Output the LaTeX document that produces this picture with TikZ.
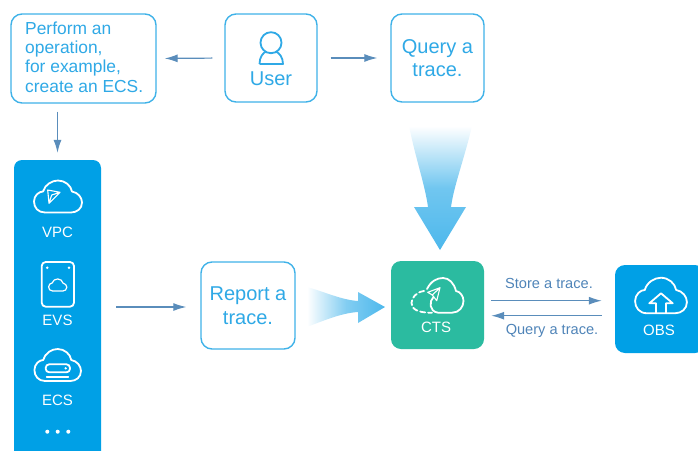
\documentclass[tikz,border=0pt]{standalone}
\usepackage{fontspec}
\setmainfont{Liberation Sans}
\usetikzlibrary{arrows.meta,calc}
\definecolor{lineblue}{HTML}{3FB2E8}
\definecolor{textblue}{HTML}{2FA9E6}
\definecolor{panelblue}{HTML}{00A0E6}
\definecolor{ctsgreen}{HTML}{2BBBA0}
\definecolor{connblue}{HTML}{5A8DBB}
\definecolor{connstext}{HTML}{4F84B8}
\definecolor{arrowblue}{HTML}{4DB8EC}
\tikzset{
  outlinebox/.style={draw=lineblue,line width=1.4pt,rounded corners=11pt,fill=white,inner sep=0pt,align=center,text=textblue,font=\fontsize{20}{23.5}\selectfont},
  solidbox/.style={rounded corners=10pt,inner sep=0pt},
  conn/.style={draw=connblue,line width=1.2pt,-{Latex[length=13pt,width=8pt]}},
  whitelabel/.style={text=white,font=\fontsize{15}{18}\selectfont,inner sep=0pt},
  connlabel/.style={text=connstext,font=\fontsize{14.6}{18}\selectfont,inner sep=0pt},
  iconw/.style={draw=white,line width=1.8pt,line join=round,line cap=round},
  cloudshape/.pic={
    \path[pic actions] (-13,16) .. controls (-20,16) and (-24,11) .. (-24,5) .. controls (-24,-1) and (-19,-5) .. (-15,-5) .. controls (-13,-12) and (-6,-16) .. (0,-16) .. controls (7,-16) and (13,-11) .. (14,-5) .. controls (20,-4) and (24,1) .. (24,6) .. controls (24,12) and (19,16) .. (13,16) -- cycle;
  }
}
\begin{document}
\begin{tikzpicture}[x=1pt,y=-1pt]
\useasboundingbox (0,0) rectangle (698,450);
% boxes
\node[outlinebox,minimum width=145pt,minimum height=89pt] (perform) at (83.5,58.5) {};
\node[anchor=west,inner sep=0pt,align=left,text=textblue,font=\fontsize{17.4}{19.4}\selectfont] (performtext) at (25,57) {Perform an\\operation,\\for example,\\create an ECS.};
\node[outlinebox,minimum width=92pt,minimum height=88pt] (user) at (271,58) {};
\node[text=textblue,font=\fontsize{20}{24}\selectfont,inner sep=0pt] (userlabel) at (271,79) {User};
\node[outlinebox,minimum width=93pt,minimum height=88pt] (query) at (437.5,58) {Query a\\trace.};
\node[outlinebox,minimum width=94pt,minimum height=87pt] (report) at (248,305.5) {Report a\\trace.};
\node[solidbox,fill=ctsgreen,minimum width=93pt,minimum height=88pt] (cts) at (437.5,305) {};
\node[solidbox,fill=panelblue,minimum width=90pt,minimum height=88pt] (obs) at (660,309) {};
\node[solidbox,rounded corners=8pt,fill=panelblue,minimum width=87pt,minimum height=320pt] (panel) at (57.5,320) {};
% labels
\node[whitelabel] (vpclabel) at (57.5,232) {VPC};
\node[whitelabel] (evslabel) at (57.5,320) {EVS};
\node[whitelabel] (ecslabel) at (57.5,400) {ECS};
\node[whitelabel] (ctslabel) at (436,327) {CTS};
\node[whitelabel] (obslabel) at (659,330) {OBS};
\node[connlabel] (storelabel) at (549,283.5) {Store a trace.};
\node[connlabel] (querylabel) at (552,330.5) {Query a trace.};
% connectors
\draw[conn,shorten <=12pt,shorten >=8pt] (user.west) -- (perform.east);
\draw[conn,shorten <=13pt,shorten >=13pt] (user.east) -- (query.west);
\draw[conn,shorten <=8pt,shorten >=7pt] (perform.south -| panel.north) -- (panel.north);
\draw[conn,shorten <=15pt,shorten >=14pt] ([yshift=-1.5pt]panel.east |- report.west) -- ([yshift=-1.5pt]report.west);
\draw[conn,shorten <=7pt,shorten >=13pt] ([yshift=4.3pt]cts.east) -- ([yshift=8.3pt]obs.west);
\draw[conn,shorten <=13pt,shorten >=7pt] ([yshift=-6.7pt]obs.west) -- ([yshift=-10.7pt]cts.east);
% gradient arrows
\shade[top color=white,bottom color=arrowblue,middle color=arrowblue!80!white]
  (409,126) -- (472,126) .. controls (464,160) and (454,185) .. (451,207) -- (466,207) -- (440,250) -- (414,207) -- (428,207) .. controls (425,185) and (416,160) .. (409,126) -- cycle;
\shade[left color=white,right color=arrowblue,middle color=arrowblue!70!white]
  (307,287) .. controls (325,292) and (342,300) .. (358,301) -- (358,292) -- (385,307) -- (358,323) -- (358,312) .. controls (342,313) and (325,320) .. (307,327) -- cycle;
% user icon
\draw[draw=textblue,line width=1.8pt,line join=round] (271,42.7) circle (10.5);
\draw[draw=textblue,line width=1.8pt,line join=round] (259.5,64) .. controls (259.5,57) and (263,53) .. (266,51.5) (276,51.5) .. controls (279,53) and (283,57) .. (283,64) -- (259.5,64);
% VPC icon
\pic[iconw] at (58,196.5) {cloudshape};
\draw[iconw,line width=1.1pt] (47.7,190) -- (60,192.3) -- (49,203.3) -- cycle (51.7,195) -- (60,192.3) (51.7,195) -- (49,203.3);
% EVS icon
\draw[iconw,rounded corners=4pt] (41.7,262) rectangle (74,306.7);
\fill[white] (47.3,267.7) circle (1.4) (69,267.7) circle (1.4);
\pic[iconw,line width=1.2pt,scale=0.38] at (57.7,285) {cloudshape};
% ECS icon
\pic[iconw,xscale=0.97,yscale=1] at (57.7,365) {cloudshape};
\draw[iconw,rounded corners=3.5pt] (45.7,364.3) rectangle (70,372.3);
\fill[white] (65.7,368.3) circle (1.3);
\draw[iconw] (46.7,376.7) -- (68.3,376.7);
% dots
\fill[white] (47.3,431.7) circle (2) (57.7,431.7) circle (2) (68.3,431.7) circle (2);
% CTS icon
\draw[iconw] (433.5,297) .. controls (429,301) and (429,311.5) .. (438,312.7) -- (452,312.7) .. controls (459,312.7) and (463.5,307) .. (463.5,301) .. controls (463.5,296) and (460,291.5) .. (456,291) .. controls (454,283) and (449,278) .. (443,278) .. controls (437,278) and (431,281) .. (427,289);
\draw[iconw,dash pattern=on 5pt off 3pt] (424,291) .. controls (416,292) and (411.5,298) .. (411.5,303) .. controls (411.5,308) and (416,313) .. (432,312.7);
\draw[iconw,line width=1.1pt] (427.7,292.3) -- (440,287.7) -- (436.7,300.7) -- (432.3,295) -- cycle (432.3,295) -- (440,287.7);
% OBS icon
\pic[iconw,xscale=1.08,yscale=1.11] at (661,295.5) {cloudshape};
\draw[iconw] (656,313) -- (656,303.3) -- (649.3,303.3) -- (661,293.3) -- (672.7,303.3) -- (666,303.3) -- (666,313);
\end{tikzpicture}
\end{document}
